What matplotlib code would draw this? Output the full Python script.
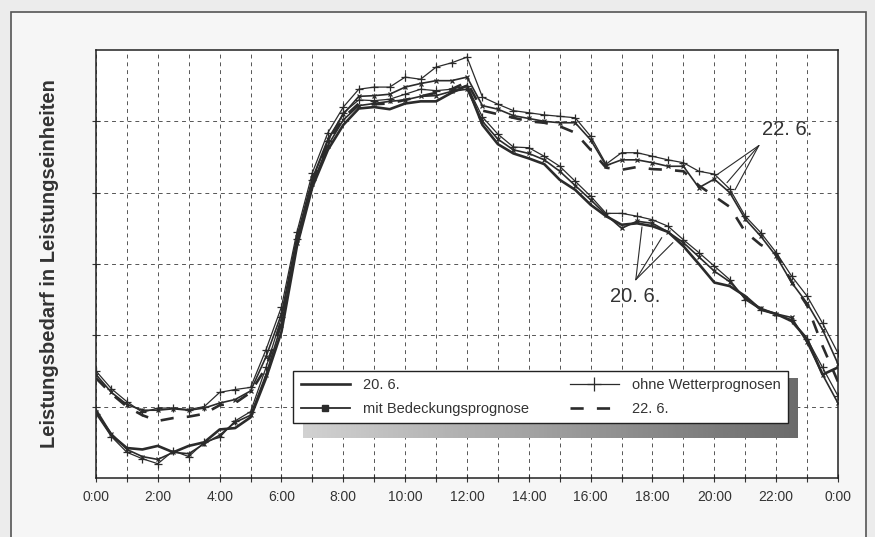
import numpy as np
import matplotlib
matplotlib.use('Agg')
import matplotlib.pyplot as plt
from matplotlib.lines import Line2D
from matplotlib.patches import Rectangle

plt.rcParams['font.family'] = ['Liberation Sans', 'DejaVu Sans']

# half-hour steps, 0:00 .. 24:00
hours = np.arange(0, 24.01, 0.5)
tick_hours = list(range(0, 25, 2))
tick_labels = ['%d:00' % (h % 24) for h in tick_hours]

# 20. 6.
ist_20 = [0.95, 0.60, 0.42, 0.40, 0.45, 0.36, 0.45, 0.50, 0.68, 0.70, 0.85, 1.40,
          2.05, 3.25, 4.08, 4.60, 4.95, 5.18, 5.20, 5.17, 5.25, 5.28, 5.28, 5.40,
          5.50, 4.95, 4.68, 4.55, 4.48, 4.40, 4.18, 4.04, 3.83, 3.67, 3.55, 3.57,
          3.53, 3.45, 3.25, 3.00, 2.74, 2.69, 2.55, 2.36, 2.30, 2.20, 1.95, 1.45,
          1.55]
bed_20 = [0.92, 0.62, 0.40, 0.30, 0.26, 0.36, 0.34, 0.48, 0.60, 0.78, 0.88, 1.45,
          2.15, 3.30, 4.12, 4.66, 5.02, 5.22, 5.25, 5.28, 5.30, 5.35, 5.36, 5.42,
          5.45, 5.00, 4.75, 4.60, 4.55, 4.46, 4.30, 4.10, 3.90, 3.69, 3.50, 3.60,
          3.57, 3.45, 3.30, 3.10, 2.90, 2.75, 2.52, 2.38, 2.30, 2.25, 1.90, 1.45,
          1.05]
ohne_20 = [0.90, 0.58, 0.36, 0.27, 0.20, 0.38, 0.30, 0.50, 0.57, 0.80, 0.93, 1.55,
           2.25, 3.35, 4.18, 4.72, 5.12, 5.30, 5.29, 5.31, 5.38, 5.45, 5.43, 5.45,
           5.50, 5.06, 4.82, 4.64, 4.63, 4.51, 4.37, 4.16, 3.95, 3.71, 3.71, 3.67,
           3.62, 3.53, 3.34, 3.16, 2.97, 2.78, 2.50, 2.36, 2.29, 2.22, 1.95, 1.55,
           1.15]

# 22. 6.
ist_22 = [1.40, 1.18, 1.00, 0.88, 0.80, 0.84, 0.86, 0.90, 1.02, 1.05, 1.20, 1.55,
          2.20, 3.32, 4.15, 4.70, 5.05, 5.25, 5.24, 5.25, 5.30, 5.35, 5.40, 5.45,
          5.55, 5.15, 5.10, 5.05, 5.00, 4.98, 4.93, 4.84, 4.60, 4.35, 4.32, 4.36,
          4.33, 4.32, 4.30, 4.10, 3.95, 3.80, 3.45, 3.27, 3.15, 2.75, 2.42, 1.85,
          1.35]
bed_22 = [1.45, 1.20, 1.03, 0.95, 0.95, 0.97, 0.95, 0.98, 1.05, 1.10, 1.22, 1.70,
          2.30, 3.38, 4.20, 4.75, 5.10, 5.35, 5.36, 5.38, 5.48, 5.53, 5.57, 5.57,
          5.62, 5.22, 5.17, 5.08, 5.04, 5.00, 4.98, 4.98, 4.74, 4.38, 4.46, 4.46,
          4.42, 4.37, 4.37, 4.07, 4.19, 4.00, 3.63, 3.39, 3.11, 2.74, 2.45, 2.08,
          1.60]
ohne_22 = [1.50, 1.25, 1.07, 0.92, 0.98, 0.98, 0.96, 1.00, 1.20, 1.24, 1.27, 1.80,
           2.40, 3.45, 4.28, 4.84, 5.20, 5.45, 5.48, 5.48, 5.62, 5.59, 5.76, 5.82,
           5.90, 5.34, 5.24, 5.15, 5.12, 5.09, 5.07, 5.05, 4.79, 4.40, 4.56, 4.56,
           4.51, 4.46, 4.42, 4.30, 4.26, 4.05, 3.67, 3.44, 3.16, 2.83, 2.55, 2.17,
           1.75]

ink = '#2b2b2b'

fig = plt.figure(figsize=(8.75, 5.37), dpi=100, facecolor='#ececec')
fig.patches.append(Rectangle((0.012, -0.02), 0.978, 0.998, transform=fig.transFigure,
                             facecolor='#f6f6f6', edgecolor='#555555', lw=1.2, zorder=-10))

ax = fig.add_axes([0.1097, 0.1099, 0.8480, 0.7970])
ax.set_zorder(1)
ax.set_facecolor('white')

for ist, bed, ohne, ls in [(ist_20, bed_20, ohne_20, '-'), (ist_22, bed_22, ohne_22, '--')]:
    ax.plot(hours, ohne, color=ink, lw=0.9, marker='+', ms=6, mew=0.9, zorder=3)
    ax.plot(hours, bed, color=ink, lw=1.2, marker='x', ms=3.5, mew=0.9, zorder=3)
    if ls == '--':
        ax.plot(hours, ist, color=ink, lw=1.9, dashes=(5, 5), zorder=4)
    else:
        ax.plot(hours, ist, color=ink, lw=1.9, zorder=4)

ax.set_xlim(0, 24)
ax.set_ylim(0, 6)
ax.set_xticks(tick_hours)
ax.set_xticklabels(tick_labels, fontsize=10, color='#333333')
ax.set_xticks(range(25), minor=True)
ax.set_yticks(range(1, 6))
ax.set_yticklabels([])
ax.tick_params(which='both', direction='inout', length=6, width=0.8, color='#333333')
ax.tick_params(axis='x', pad=6)
ax.grid(which='both', axis='x', color='#555555', lw=0.7, dashes=(4, 4))
ax.grid(which='major', axis='y', color='#555555', lw=0.7, dashes=(4, 4))
for sp in ax.spines.values():
    sp.set_color('#222222')
    sp.set_linewidth(1.1)

ax.set_ylabel('Leistungsbedarf in Leistungseinheiten', fontsize=14.5, fontweight='bold',
              color='#333333', labelpad=20)

# leader lines for the day labels
ax.text(22.35, 4.88, '22. 6.', fontsize=14.5, color='#333333', ha='center', va='center')
for end in [(20.08, 4.25), (20.41, 4.14), (20.67, 4.04)]:
    ax.annotate('', xy=end, xytext=(21.44, 4.66),
                arrowprops=dict(arrowstyle='-', lw=0.8, color=ink, shrinkA=0, shrinkB=0))
ax.text(17.43, 2.55, '20. 6.', fontsize=14.5, color='#333333', ha='center', va='center')
for end in [(17.66, 3.52), (18.3, 3.37), (18.66, 3.30)]:
    ax.annotate('', xy=end, xytext=(17.46, 2.78),
                arrowprops=dict(arrowstyle='-', lw=0.8, color=ink, shrinkA=0, shrinkB=0))

# legend with grey drop shadow
lx0, ly0, lw_, lh = 0.266, 0.119, 0.667, 0.140
grad = np.linspace(0.82, 0.42, 200).reshape(1, -1)
ax.imshow(grad, extent=(lx0 + 0.0135, lx0 + lw_ + 0.0135, ly0 - 0.026, ly0 + lh - 0.026),
          transform=ax.transAxes, cmap='gray', vmin=0, vmax=1, aspect='auto', zorder=5)
ax.set_xlim(0, 24)
ax.set_ylim(0, 6)

handles = [
    Line2D([], [], color=ink, lw=1.9),
    Line2D([], [], color=ink, lw=1.3, marker='s', ms=4.5),
    Line2D([], [], color=ink, lw=0.9, marker='+', ms=10, mew=0.9),
    Line2D([], [], color=ink, lw=1.9, dashes=(5, 5)),
]
labels = ['20. 6.', 'mit Bedeckungsprognose', 'ohne Wetterprognosen', '22. 6.']
leg = ax.legend(handles, labels, ncol=2, loc='center', bbox_to_anchor=(lx0, ly0, lw_, lh),
                mode='expand', borderaxespad=0, fontsize=10.5, frameon=True, fancybox=False,
                edgecolor='#222222', framealpha=1, handlelength=3.4, handletextpad=0.9,
                labelspacing=0.7, borderpad=0.5, columnspacing=2.0)
leg.get_frame().set_linewidth(1.0)
leg.set_zorder(6)
for t in leg.get_texts():
    t.set_color('#333333')

fig.savefig('out.png', dpi=100, facecolor=fig.get_facecolor())
